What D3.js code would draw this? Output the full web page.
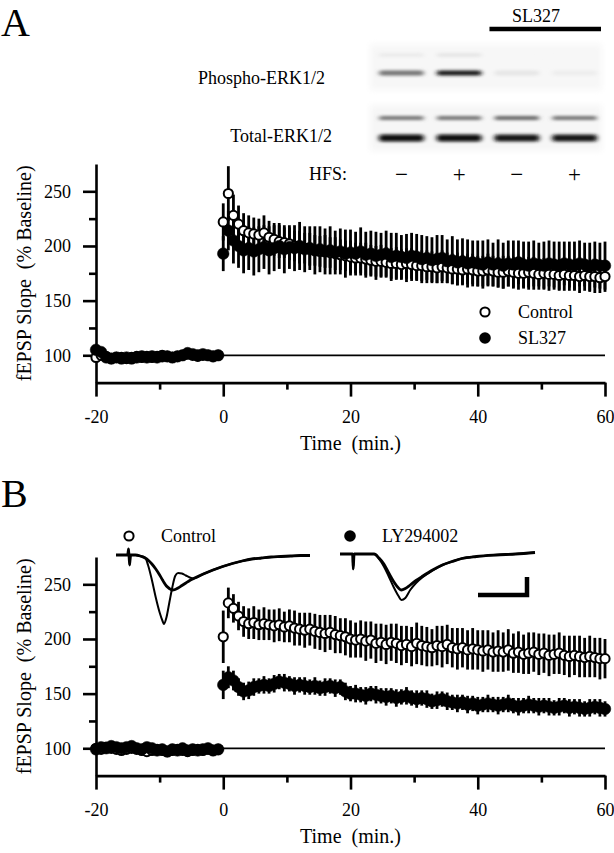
<!DOCTYPE html>
<html><head><meta charset="utf-8">
<script src="https://cdn.jsdelivr.net/npm/d3@7"></script>
<style>
body{margin:0;background:#fff}
svg{display:block}
text{font-family:"Liberation Serif","Times New Roman",serif;fill:#000}
</style>
</head><body>
<svg id="c" width="614" height="853"></svg>
<script>
// ---------------- DATA ----------------
const baseTimes = [-20,-19.2,-18.4,-17.6,-16.8,-16,-15.2,-14.4,-13.6,-12.8,-12,-11.2,-10.4,-9.6,-8.8,-8,-7.2,-6.4,-5.6,-4.8,-4,-3.2,-2.4,-1.6,-0.8];
const postTimes = [0,0.8,1.6,2.4,3.2,4,4.8,5.6,6.4,7.2,8,8.8,9.6,10.4,11.2,12,12.8,13.6,14.4,15.2,16,16.8,17.6,18.4,19.2,20,20.8,21.6,22.4,23.2,24,24.8,25.6,26.4,27.2,28,28.8,29.6,30.4,31.2,32,32.8,33.6,34.4,35.2,36,36.8,37.6,38.4,39.2,40,40.8,41.6,42.4,43.2,44,44.8,45.6,46.4,47.2,48,48.8,49.6,50.4,51.2,52,52.8,53.6,54.4,55.2,56,56.8,57.6,58.4,59.2,60];

// Panel A
const aCtrlBase = [98,100,99,97,98,98,97,98,99,98,99,98,99,100,99,98,99,100,101,100,99,100,100,99,100];
const aSlBase   = [105,103,98,97,98,97,98,97,98,99,98,99,98,99,99,98,99,100,102,101,100,101,100,99,100];
const aCtrlPost = [222,248,228,220,214,212,211,210,212,208,206,204,203,202,200,199,198,197,196,195,195,194,193,192,191,190,189,189,188,187,186,186,185,184,184,183,184,183,182,182,181,181,180,181,180,179,179,178,179,178,177,177,178,177,176,176,177,176,175,175,176,175,174,175,174,174,173,174,173,173,172,173,172,172,171,172];
const aCtrlErr  = [17,25,19,17,16,16,15,15,16,15,15,15,14,15,14,15,14,15,14,14,15,14,15,14,14,15,14,14,15,14,14,15,14,14,15,14,14,15,14,14,15,14,14,15,14,14,15,14,14,15,14,14,15,14,14,15,14,14,15,14,14,15,14,14,15,14,14,15,14,14,15,14,14,15,14,14];
const aSlPost   = [193,214,205,200,196,198,195,197,199,196,198,200,197,199,198,200,197,198,196,197,195,196,194,195,193,194,193,195,192,193,191,192,193,190,191,190,189,191,190,188,189,187,188,189,186,187,185,186,184,185,184,183,185,183,184,182,184,183,185,183,182,184,183,182,184,183,182,184,183,182,184,183,181,183,182,182];
const aSlErr    = [16,18,21,20,21,20,22,21,20,22,21,21,22,20,21,22,21,20,22,21,21,22,20,21,22,21,20,22,21,21,22,20,21,22,21,20,22,21,21,22,20,21,22,21,20,22,21,21,22,20,21,22,21,20,22,21,21,22,20,21,22,21,20,22,21,21,22,20,21,22,21,20,22,21,21,22];

// Panel B
const bCtrlBase = [100,99,101,100,99,98,99,100,99,98,97,98,99,98,97,98,99,98,97,98,99,98,99,98,99];
const bLyBase   = [99,101,100,102,101,100,101,102,100,99,101,100,98,99,97,99,98,100,98,99,98,99,100,98,99];
const bCtrlPost = [202,233,228,221,216,214,215,213,214,213,212,213,211,212,210,209,208,209,207,206,205,206,204,203,202,200,199,200,198,199,196,197,195,197,196,194,195,193,196,194,193,192,194,193,195,192,191,192,190,191,190,189,190,188,189,188,190,187,188,186,187,188,186,187,185,186,187,185,184,185,184,183,184,183,182,182];
const bCtrlErr  = [24,14,13,13,14,14,15,14,15,14,15,15,14,15,16,15,16,15,16,16,17,16,17,16,17,17,16,17,18,17,18,17,18,17,18,18,17,18,19,18,18,17,18,19,18,18,19,18,18,19,18,19,18,18,19,18,19,18,19,18,19,18,19,18,19,18,19,18,19,18,19,18,19,18,19,18];
const bLyPost   = [158,165,162,156,152,153,156,157,158,157,159,161,160,159,157,158,157,156,157,155,156,157,155,156,152,150,150,149,148,150,149,148,147,148,146,147,148,146,145,146,145,143,144,145,143,142,141,142,140,141,139,140,141,140,139,140,141,139,138,139,140,139,138,139,138,137,138,139,137,138,137,136,137,138,137,136];
const bLyErr    = [13,10,9,8,8,8,8,7,8,7,8,7,8,7,8,7,8,7,8,7,8,7,8,7,8,7,8,7,8,7,8,7,8,7,8,7,8,7,8,7,8,7,8,7,8,7,8,7,8,7,8,7,8,7,8,7,8,7,8,7,8,7,8,7,8,7,8,7,8,7,8,7,8,7,8,7];

// axis ticks
const xMajor = [-20,0,20,40,60];
const xMinor = [-10,10,30,50];
const yMajor = [100,150,200,250];
const yMinor = [125,175,225];

// Blot (panel A inset): lanes, HFS condition, relative band intensities
const lanes = ["1","2","3","4"];
const hfsSigns = ["\u2212","+","\u2212","+"];
const phosphoBand = [0.55,0.9,0.1,0.07];
const phosphoFaint = [0.08,0.1,0.03,0.03];
const totalUpper = [0.55,0.55,0.6,0.55];
const totalLower = [0.95,0.95,0.93,0.93];

// Example fEPSP traces (ms, mV)
const ctrlTraceT  = [0,1.2,1.3,1.4,1.5,2,2.5,3,3.3,3.7,4.1,4.5,4.8,4.95,5.2,5.5,5.8,6.1,6.4,6.8,7.2,7.6,8,9,10,11,12,13,14,15,16,17,18,19,20];
const ctrlTracePre  = [0,0,0.12,-0.2,0,0,-0.02,-0.06,-0.1,-0.18,-0.28,-0.4,-0.5,-0.55,-0.62,-0.67,-0.7,-0.69,-0.66,-0.61,-0.56,-0.51,-0.47,-0.38,-0.3,-0.23,-0.17,-0.12,-0.08,-0.06,-0.04,-0.03,-0.02,-0.01,-0.01];
const ctrlTracePost = [0,0,0.12,-0.2,0,0,-0.02,-0.05,-0.2,-0.5,-0.85,-1.15,-1.32,-1.38,-1.25,-0.95,-0.65,-0.42,-0.36,-0.37,-0.41,-0.45,-0.47,-0.38,-0.3,-0.23,-0.17,-0.12,-0.08,-0.06,-0.04,-0.03,-0.02,-0.01,-0.01];
const lyTraceT    = [0,1.3,1.35,1.45,2,3.5,4,4.5,5,5.5,6,6.3,6.7,7.2,7.8,8.5,9.5,10.5,11.5,12.5,14,16,18,20];
const lyTracePre  = [0,0,-0.3,0,0,0,-0.08,-0.2,-0.38,-0.55,-0.68,-0.72,-0.69,-0.62,-0.53,-0.44,-0.32,-0.22,-0.15,-0.09,-0.05,-0.02,0,0.03];
const lyTracePost = [0,0,-0.3,0,0,0,-0.1,-0.25,-0.45,-0.66,-0.84,-0.92,-0.88,-0.72,-0.58,-0.46,-0.33,-0.22,-0.15,-0.09,-0.05,-0.02,0,0.03];

// ---------------- DRAW ----------------
const svg = d3.select("#c");
const FS = 18;

const x = d3.scaleLinear().domain([-20,60]).range([96,605]);
const yA = d3.scaleLinear().domain([75,275]).range([382.6,164]);
const yB = d3.scaleLinear().domain([75,275]).range([775.6,557]);

function zip(t, v, e){ return t.map((d,i)=>({t:d, v:v[i], e: e ? e[i] : null})); }

function axes(y){
  const g = svg.append("g");
  g.append("g").attr("transform","translate(96,0)")
    .call(d3.axisLeft(y).tickValues(yMajor).tickSize(13).tickPadding(12).tickSizeOuter(0).tickFormat(String));
  g.append("g").attr("transform","translate(96,0)")
    .call(d3.axisLeft(y).tickValues(yMinor).tickSize(7).tickFormat("")).select(".domain").remove();
  g.append("g").attr("transform",`translate(0,${y(75)})`)
    .call(d3.axisBottom(x).tickValues(xMajor).tickSize(14).tickPadding(14).tickSizeOuter(0).tickFormat(String));
  g.append("g").attr("transform",`translate(0,${y(75)})`)
    .call(d3.axisBottom(x).tickValues(xMinor).tickSize(7).tickFormat("")).select(".domain").remove();
  g.selectAll(".domain, .tick line").attr("stroke","#000").attr("stroke-width",2.6);
  g.selectAll(".tick text").attr("font-size",FS).attr("font-family",null).attr("fill","#000");
  g.append("text").attr("transform",`translate(31,${(y(75)+y(275))/2}) rotate(-90)`)
    .attr("text-anchor","middle").attr("font-size",20).attr("xml:space","preserve").text("fEPSP Slope  (% Baseline)");
  g.append("text").attr("x",(x(-20)+x(60))/2).attr("y",y(75)+67).attr("text-anchor","middle")
    .attr("font-size",20).attr("xml:space","preserve").text("Time  (min.)");
  g.append("line").attr("x1",x(-20)).attr("x2",x(60)).attr("y1",y(100)).attr("y2",y(100))
    .attr("stroke","#000").attr("stroke-width",1.8);
}

function errBars(y, data){
  svg.append("g").selectAll("line").data(data.filter(d=>d.e!=null)).join("line")
    .attr("x1",d=>x(d.t)).attr("x2",d=>x(d.t))
    .attr("y1",d=>y(d.v-d.e)).attr("y2",d=>y(d.v+d.e))
    .attr("stroke","#000").attr("stroke-width",2.8);
}
function dots(y, data, filled){
  svg.append("g").selectAll("circle").data(data).join("circle")
    .attr("cx",d=>x(d.t)).attr("cy",d=>y(d.v))
    .attr("r", filled ? 5.8 : 4.6)
    .attr("fill", filled ? "#000" : "#fff")
    .attr("stroke","#000").attr("stroke-width", filled ? 0.5 : 2);
}

// ---- Panel A ----
svg.append("text").attr("x",1).attr("y",36).attr("font-size",40).text("A");
axes(yA);
const aC = zip(postTimes,aCtrlPost,aCtrlErr), aS = zip(postTimes,aSlPost,aSlErr);
errBars(yA, aS); errBars(yA, aC);
dots(yA, zip(baseTimes,aCtrlBase), false);
dots(yA, zip(baseTimes,aSlBase), true);
dots(yA, aC, false);
dots(yA, aS, true);
// legend A
svg.append("circle").attr("cx",485).attr("cy",312).attr("r",4.6).attr("fill","#fff").attr("stroke","#000").attr("stroke-width",2);
svg.append("circle").attr("cx",485).attr("cy",338).attr("r",5.8).attr("fill","#000");
svg.append("text").attr("x",518).attr("y",318).attr("font-size",FS).text("Control");
svg.append("text").attr("x",518).attr("y",344).attr("font-size",FS).text("SL327");

// Blot
const defs = svg.append("defs");
defs.append("filter").attr("id","blur").attr("x","-30%").attr("y","-150%").attr("width","160%").attr("height","400%")
  .append("feGaussianBlur").attr("stdDeviation","2.4 1.8");
defs.append("filter").attr("id","blurBg").append("feGaussianBlur").attr("stdDeviation",3);
const lx = d3.scaleBand().domain(lanes).range([376,600]).paddingInner(0.12);
const gray = a => { const c = Math.round(255*(1-a)); return `rgb(${c},${c},${c})`; };
const blot = svg.append("g");
blot.append("rect").attr("x",370).attr("y",44).attr("width",232).attr("height",46).attr("fill","#f7f7f7").attr("filter","url(#blurBg)");
blot.append("rect").attr("x",370).attr("y",105).attr("width",232).attr("height",46).attr("fill","#f6f6f6").attr("filter","url(#blurBg)");
function bands(vals, cy, h){
  blot.append("g").attr("filter","url(#blur)").selectAll("rect").data(lanes).join("rect")
    .attr("x",d=>lx(d)+3).attr("width",lx.bandwidth()-6)
    .attr("y",cy-h/2).attr("height",h).attr("rx",3)
    .attr("fill",(d,i)=>gray(vals[i]));
}
bands(phosphoFaint, 55, 4);
bands(phosphoBand, 73, 5);
bands(totalUpper, 118, 4);
bands(totalLower, 138, 7);
svg.append("text").attr("x",325).attr("y",84).attr("text-anchor","end").attr("font-size",FS).text("Phospho-ERK1/2");
svg.append("text").attr("x",332).attr("y",142).attr("text-anchor","end").attr("font-size",FS).text("Total-ERK1/2");
svg.append("text").attr("x",309).attr("y",180).attr("font-size",FS).text("HFS:");
svg.append("g").selectAll("text").data(lanes).join("text")
  .attr("x",d=>lx(d)+lx.bandwidth()/2).attr("y",182).attr("text-anchor","middle").attr("font-size",23)
  .text((d,i)=>hfsSigns[i]);
svg.append("text").attr("x",536).attr("y",22).attr("text-anchor","middle").attr("font-size",FS).text("SL327");
svg.append("line").attr("x1",lx("3")-2).attr("x2",601).attr("y1",29).attr("y2",29).attr("stroke","#000").attr("stroke-width",4.5);

// ---- Panel B ----
svg.append("text").attr("x",1).attr("y",507).attr("font-size",40).text("B");
axes(yB);
const bC = zip(postTimes,bCtrlPost,bCtrlErr), bL = zip(postTimes,bLyPost,bLyErr);
errBars(yB, bL); errBars(yB, bC);
dots(yB, zip(baseTimes,bCtrlBase), false);
dots(yB, zip(baseTimes,bLyBase), true);
dots(yB, bC, false);
dots(yB, bL, true);
// legend B
svg.append("circle").attr("cx",129).attr("cy",536).attr("r",4.6).attr("fill","#fff").attr("stroke","#000").attr("stroke-width",2);
svg.append("text").attr("x",161).attr("y",542).attr("font-size",FS).text("Control");
svg.append("circle").attr("cx",350).attr("cy",536).attr("r",5.8).attr("fill","#000");
svg.append("text").attr("x",382).attr("y",542).attr("font-size",FS).text("LY294002");

// traces
function trace(tArr, vArr, xr, y0, w){
  const tx = d3.scaleLinear().domain([0,20]).range(xr);
  const ty = d3.scaleLinear().domain([0,-1]).range([y0, y0+50]);
  const line = d3.line().x((d,i)=>tx(tArr[i])).y(d=>ty(d)).curve(d3.curveMonotoneX);
  svg.append("path").attr("d",line(vArr)).attr("fill","none").attr("stroke","#000").attr("stroke-width",w).attr("stroke-linejoin","round");
}
trace(ctrlTraceT, ctrlTracePre, [116,310], 555, 2.8);
trace(ctrlTraceT, ctrlTracePost, [116,310], 555, 2);
trace(lyTraceT, lyTracePre, [340,535], 554, 2.8);
trace(lyTraceT, lyTracePost, [340,535], 554, 2);
// scale bar
svg.append("path").attr("d","M478,595 H527 V577").attr("fill","none").attr("stroke","#000").attr("stroke-width",4.5);
</script>
</body></html>
